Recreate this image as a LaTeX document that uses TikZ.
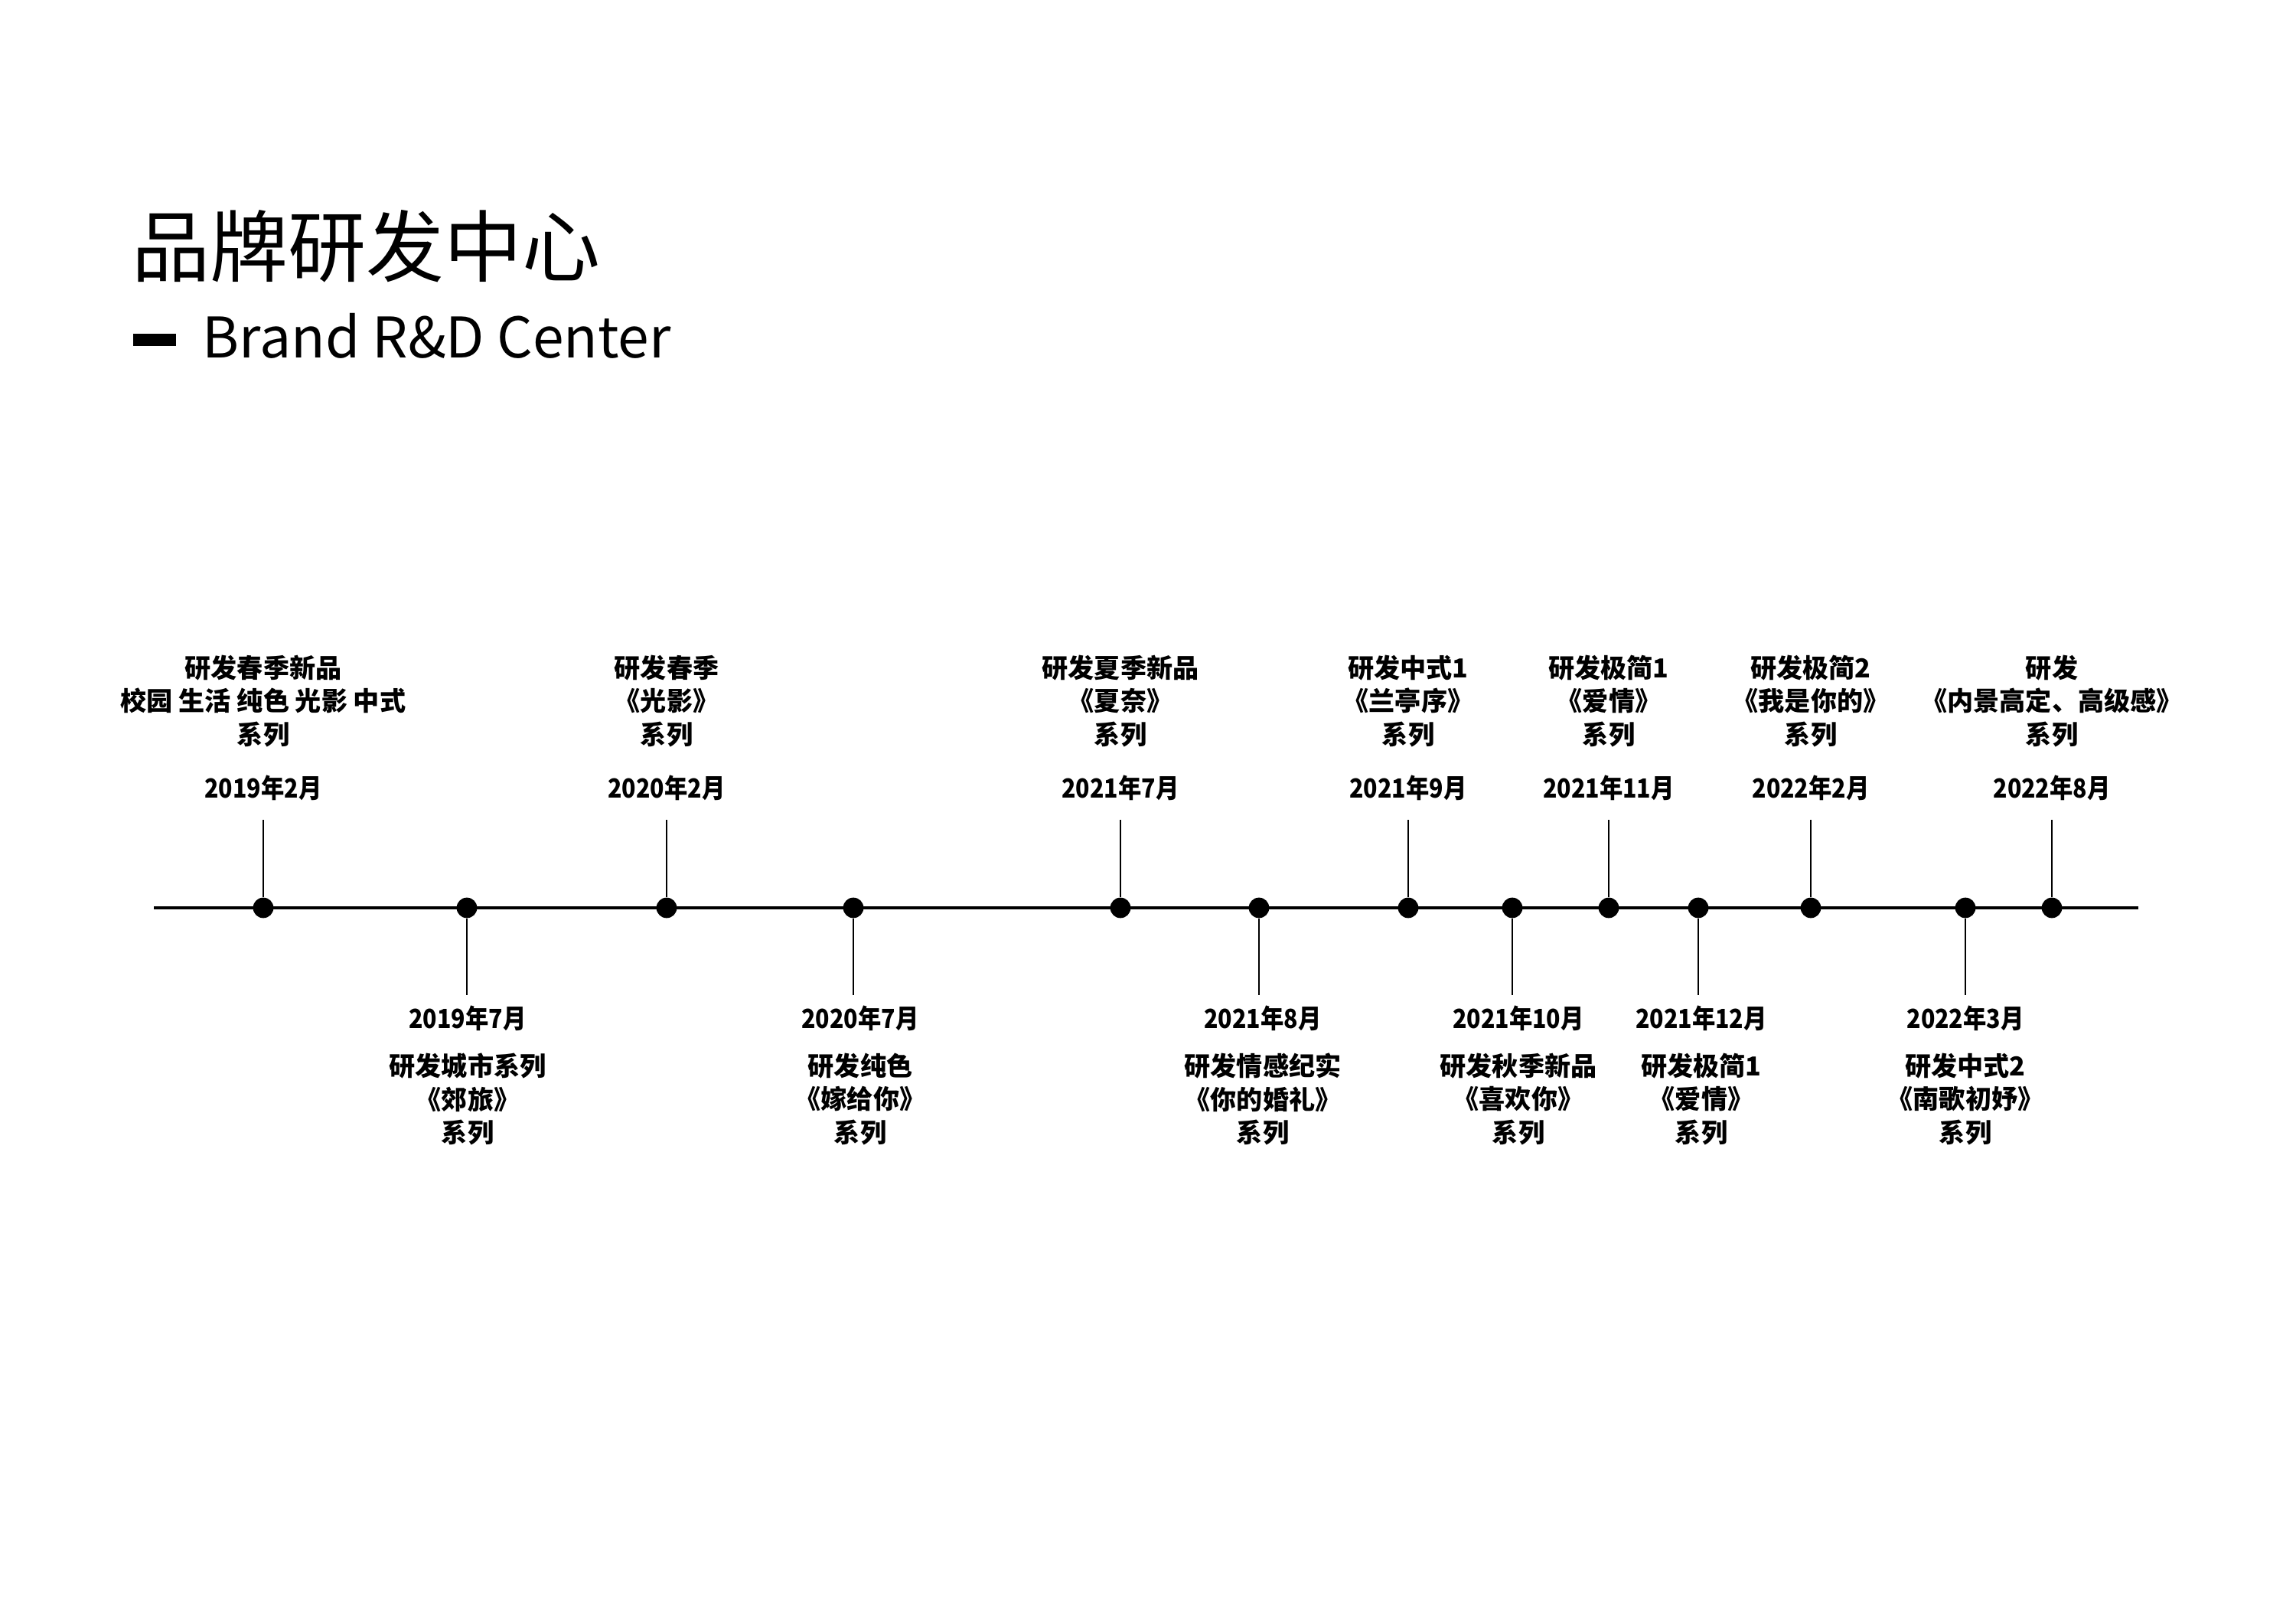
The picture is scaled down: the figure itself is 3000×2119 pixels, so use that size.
\documentclass[tikz,border=0pt]{standalone}
\usepackage{fontspec}
\setmainfont{Noto Sans CJK SC}
\usetikzlibrary{positioning}
\definecolor{rdInk}{HTML}{000000}
\tikzset{
  rd axis/.style={draw=rdInk, line width=1.4pt},
  rd tick/.style={draw=rdInk, line width=0.7pt},
  rd dot/.style={circle, fill=rdInk, minimum size=7.6pt, inner sep=0pt},
  rd bar/.style={fill=rdInk, minimum width=15.9pt, minimum height=4.8pt, inner sep=0pt},
  rd label/.style={font=\fontsize{9.7}{12.4}\selectfont\bfseries, text=rdInk, align=center, inner sep=0pt},
  rd date/.style={font=\fontsize{9.8}{12.4}\selectfont\bfseries, text=rdInk, inner sep=0pt, xscale=0.88, transform shape},
  rd title/.style={font=\fontsize{29}{30}\selectfont, text=rdInk, anchor=base west, inner sep=0pt},
  rd subtitle/.style={font=\fontsize{20.8}{24}\selectfont, text=rdInk, anchor=base west, inner sep=0pt},
}

\begin{document}
\begin{tikzpicture}[x=0.01cm, y=-0.01cm]
  \useasboundingbox (0,0) rectangle (3000,2119);

  % Heading
  \node[rd title] (title) at (172,361) {品牌研发中心};
  \node[rd bar] (bar) at (202,444) {};
  \node[rd subtitle] (subtitle) at (264,468) {Brand R\&D Center};

  % Time axis
  \coordinate (tl start) at (201,1186);
  \coordinate (tl end) at (2794,1186);
  \draw[rd axis] (tl start) -- (tl end);

  % Upper events: dot, tick, date, text
  \foreach \i/\x/\d/\la/\lb/\lc in {
      1/344/2019年2月/研发春季新品/校园 生活 纯色 光影 中式/系列,
      2/871/2020年2月/研发春季/《光影》/系列,
      3/1464/2021年7月/研发夏季新品/《夏奈》/系列,
      4/1840/2021年9月/研发中式1/《兰亭序》/系列,
      5/2102/2021年11月/研发极简1/《爱情》/系列,
      6/2366/2022年2月/研发极简2/《我是你的》/系列,
      7/2681/2022年8月/研发/《内景高定、高级感》/系列} {
    \node[rd dot] (up\i) at (\x,1186) {};
    \coordinate (up\i tick) at (\x,1071);
    \draw[rd tick] (up\i) -- (up\i tick);
    \node[rd date] (up\i date) at (\x,1029) {\d};
    \node[rd label] (up\i text) at (\x,916) {\la\\\lb\\\lc};
  }

  % Lower events: dot, tick, date, text
  \foreach \i/\x/\tx/\d/\la/\lb/\lc in {
      1/610/611/2019年7月/研发城市系列/《郊旅》/系列,
      2/1115/1124/2020年7月/研发纯色/《嫁给你》/系列,
      3/1645/1650/2021年8月/研发情感纪实/《你的婚礼》/系列,
      4/1976/1984/2021年10月/研发秋季新品/《喜欢你》/系列,
      5/2219/2223/2021年12月/研发极简1/《爱情》/系列,
      6/2568/2568/2022年3月/研发中式2/《南歌初妤》/系列} {
    \node[rd dot] (dn\i) at (\x,1186) {};
    \coordinate (dn\i tick) at (\x,1300);
    \draw[rd tick] (dn\i) -- (dn\i tick);
    \node[rd date] (dn\i date) at (\tx,1330) {\d};
    \node[rd label] (dn\i text) at (\tx,1436) {\la\\\lb\\\lc};
  }
\end{tikzpicture}
\end{document}
